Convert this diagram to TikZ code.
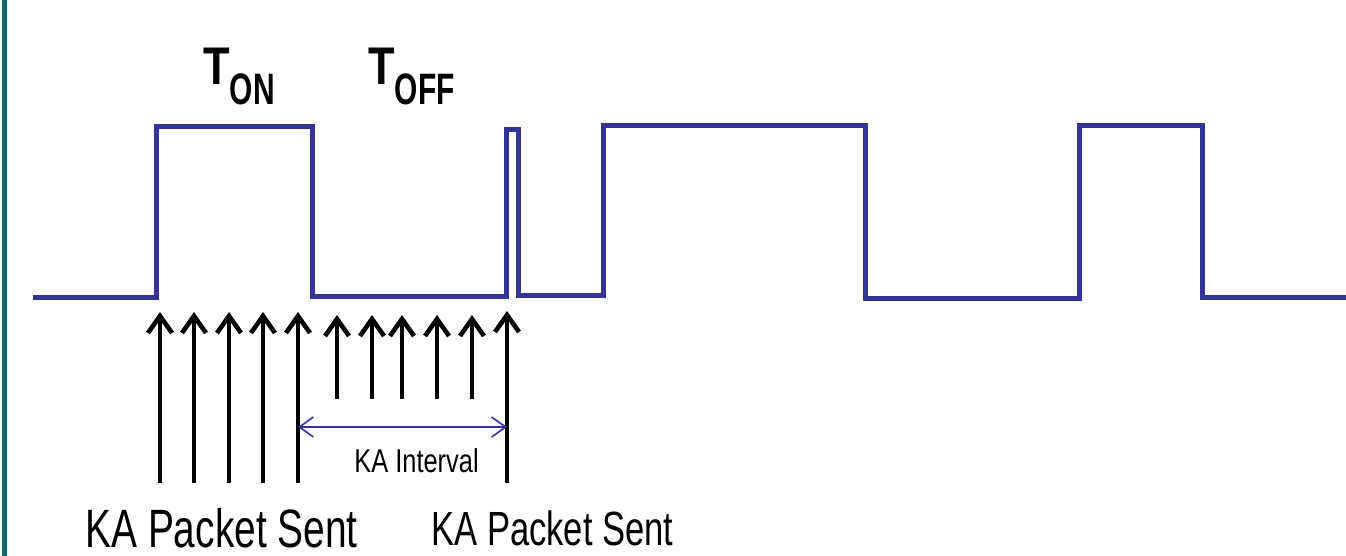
\documentclass[tikz,border=0pt]{standalone}
\usepackage{fontspec}
\setmainfont{Liberation Sans}
\usetikzlibrary{arrows.meta}
\definecolor{sigblue}{RGB}{51,51,153}
\definecolor{barteal}{RGB}{10,105,100}

\begin{document}
\begin{tikzpicture}[
  x=0.5pt, y=-0.5pt,
  signal/.style={draw=sigblue, line width=2.5pt},
  pkt/.style={-{Straight Barb[length=8.5pt, width=12pt]}, line width=2.3pt},
  intarr/.style={{Straight Barb[length=7pt, width=10pt]}-{Straight Barb[length=7pt, width=10pt]},
                 draw=sigblue, line width=0.8pt},
  lbl/.style={inner sep=0pt, anchor=base west},
]
\useasboundingbox (0,0) rectangle (1346,556);
% Rand links
\fill[barteal] (2,0) rectangle (7,556);
% Signalverlauf
\draw[signal] (33,298) -- (156,298) -- (156,127) -- (312,127) -- (312,297)
  -- (506,297) -- (506,130) -- (518,130) -- (518,296) -- (603,296)
  -- (603,126) -- (865,126) -- (865,299) -- (1079,299) -- (1079,126)
  -- (1202,126) -- (1202,298) -- (1346,298);
% Beschriftung oben
\node[lbl, font=\bfseries\fontsize{26.5}{26.5}\selectfont] (ton) at (203,85)
  {\scalebox{0.82}[1]{T}\raisebox{-10pt}{\fontsize{22}{22}\selectfont\scalebox{0.68}[1]{ON}}};
\node[lbl, font=\bfseries\fontsize{26.5}{26.5}\selectfont] (toff) at (368,85)
  {\scalebox{0.82}[1]{T}\raisebox{-10pt}{\fontsize{22}{22}\selectfont\scalebox{0.68}[1]{OFF}}};
% KA Pakete
\foreach \x in {160,194,229,263,298}
  \draw[pkt] (\x,483) -- (\x,312);
\foreach \x in {337,372,402,437,472}
  \draw[pkt] (\x,399) -- (\x,315);
\draw[pkt] (507,483) -- (507,311);
% Intervall
\coordinate (ka5)  at (298,427);
\coordinate (ka11) at (507,427);
\draw[intarr] (ka5) -- (ka11);
\node[lbl, font=\fontsize{16.5}{16.5}\selectfont] (intv) at (354,472)
  {\scalebox{0.77}[1]{KA Interval}};
% Beschriftung unten
\node[lbl, font=\fontsize{27}{27}\selectfont] (sent1) at (85,547)
  {\scalebox{0.72}[1]{KA Packet Sent}};
\node[lbl, font=\fontsize{24}{24}\selectfont] (sent2) at (431,545)
  {\scalebox{0.72}[1]{KA Packet Sent}};
\end{tikzpicture}
\end{document}
